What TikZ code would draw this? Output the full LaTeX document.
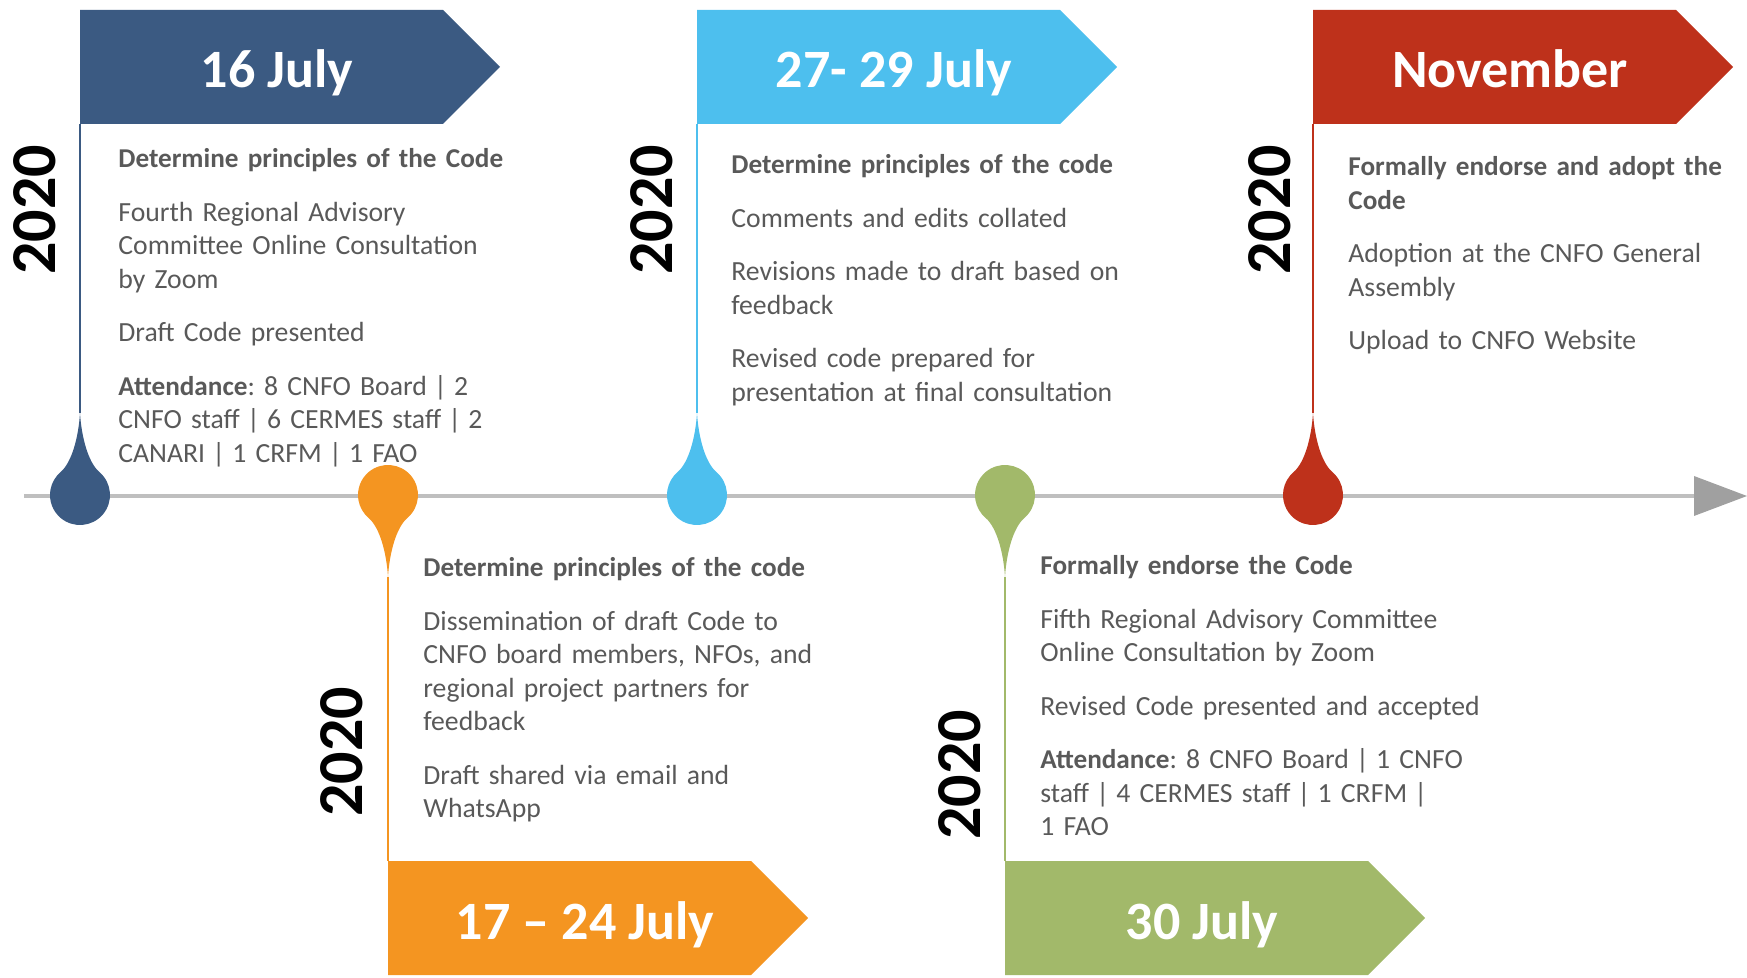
\documentclass[tikz,border=0pt]{standalone}
\usepackage{fontspec}
\setmainfont{Carlito}
\definecolor{cblue}{HTML}{3B5A82}
\definecolor{clight}{HTML}{4DBFEE}
\definecolor{corange}{HTML}{F49521}
\definecolor{cgreen}{HTML}{A2B96A}
\definecolor{cred}{HTML}{BE311B}
\definecolor{linegray}{HTML}{BFBFBF}
\definecolor{arrowgray}{HTML}{A0A0A0}
\definecolor{txtgray}{HTML}{595959}
\newcommand\mybanner[3]{\fill[#3] (#1,#2) -- ++(363,0) -- ++(57,57) -- ++(-57,57) -- ++(-363,0) -- cycle;}
\newcommand\mydropup[3]{\fill[#3,shift={(#1,#2)}] (0,-82) .. controls (1.5,-58) and (8,-33) .. (19.28,-22.98) arc[start angle=-50,end angle=230,radius=30] .. controls (-8,-33) and (-1.5,-58) .. cycle;}
\newcommand\mydropdown[3]{\fill[#3,shift={(#1,#2)}] (0,82) .. controls (1.5,58) and (8,33) .. (19.28,22.98) arc[start angle=50,end angle=-230,radius=30] .. controls (-8,33) and (-1.5,58) .. cycle;}
\newcommand\hd[1]{{\fontsize{13.6}{16.75}\selectfont\bfseries #1}}
\newcommand\vb{\kern-1pt|\kern-1pt}
\frenchspacing
\begin{document}
\begin{tikzpicture}[x=0.5pt,y=-0.5pt,
  body/.style={anchor=base west, inner sep=0pt, align=left, text width=230pt, text=txtgray, font=\fontsize{13.85}{16.75}\selectfont\frenchspacing},
  title/.style={anchor=base, inner sep=0pt, text=white, font=\fontsize{27}{30}\selectfont\bfseries},
  year/.style={rotate=90, inner sep=0pt, text=black, font=\fontsize{32}{36}\selectfont\bfseries},
  stem/.style={line width=0.75pt}]
\useasboundingbox (0,0) rectangle (1747,978);
% timeline
\coordinate (tlA) at (24,496);
\coordinate (tlB) at (1697,496);
\draw[line width=2pt, linegray] (tlA) -- (tlB);
\fill[arrowgray] (1694,476) -- (1747,496) -- (1694,516) -- cycle;
% stems
\coordinate (s1a) at (80,124);   \coordinate (s1b) at (80,413);
\coordinate (s2a) at (388,577);  \coordinate (s2b) at (388,861);
\coordinate (s3a) at (697,124);  \coordinate (s3b) at (697,413);
\coordinate (s4a) at (1005,577); \coordinate (s4b) at (1005,861);
\coordinate (s5a) at (1313,124); \coordinate (s5b) at (1313,413);
\draw[stem,cblue] (s1a) -- (s1b);
\draw[stem,corange] (s2a) -- (s2b);
\draw[stem,clight] (s3a) -- (s3b);
\draw[stem,cgreen] (s4a) -- (s4b);
\draw[stem,cred] (s5a) -- (s5b);
% drops
\mydropup{80}{495}{cblue}
\mydropdown{388}{495}{corange}
\mydropup{697}{495}{clight}
\mydropdown{1005}{495}{cgreen}
\mydropup{1313}{495}{cred}
% banners
\mybanner{80}{10}{cblue}
\mybanner{697}{10}{clight}
\mybanner{1313}{10}{cred}
\mybanner{388}{861}{corange}
\mybanner{1005}{861}{cgreen}
\node[title] (t1) at (277,88) {16 July};
\node[title] (t3) at (894,88) {27- 29 July};
\node[title] (t5) at (1510,88) {November};
\node[title] (t2) at (585,939) {17 – 24 July};
\node[title] (t4) at (1202,939) {30 July};
% years
\node[year] (y1) at (35,210) {2020};
\node[year] (y3) at (652,210) {2020};
\node[year] (y5) at (1270,210) {2020};
\node[year] (y2) at (342,752) {2020};
\node[year] (y4) at (960,775) {2020};
% texts
\node[body] (c1) at (118,168) {\hd{Determine principles of the Code}\\[10pt]
Fourth Regional Advisory\\
Committee Online Consultation\\
by Zoom\\[10pt]
Draft Code presented\\[10pt]
\hd{Attendance}: 8 CNFO Board \vb{} 2\\
CNFO staff \vb{} 6 CERMES staff \vb{} 2\\
CANARI \vb{} 1 CRFM \vb{} 1 FAO};
\node[body] (c3) at (731,174) {\hd{Determine principles of the code}\\[10pt]
Comments and edits collated\\[10pt]
Revisions made to draft based on\\
feedback\\[10pt]
Revised code prepared for\\
presentation at final consultation};
\node[body] (c5) at (1348,176) {\hd{Formally endorse and adopt the}\\
\hd{Code}\\[10pt]
Adoption at the CNFO General\\
Assembly\\[10pt]
Upload to CNFO Website};
\node[body] (c2) at (423,577) {\hd{Determine principles of the code}\\[10pt]
Dissemination of draft Code to\\
CNFO board members, NFOs, and\\
regional project partners for\\
feedback\\[10pt]
Draft shared via email and\\
WhatsApp};
\node[body] (c4) at (1040,575) {\hd{Formally endorse the Code}\\[10pt]
Fifth Regional Advisory Committee\\
Online Consultation by Zoom\\[10pt]
Revised Code presented and accepted\\[10pt]
\hd{Attendance}: 8 CNFO Board \vb{} 1 CNFO\\
staff \vb{} 4 CERMES staff \vb{} 1 CRFM \vb{}\\
1 FAO};
\end{tikzpicture}
\end{document}
